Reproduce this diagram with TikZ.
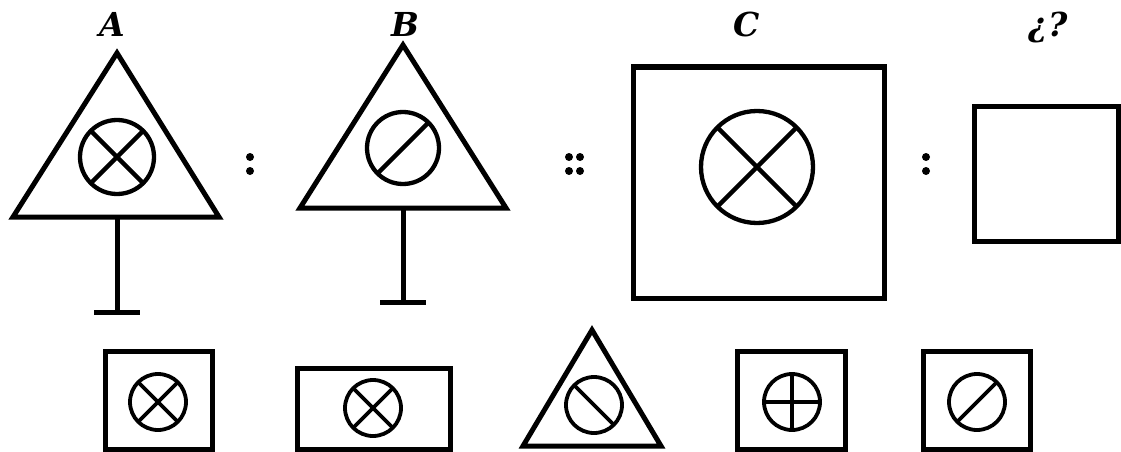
\documentclass[tikz,border=0pt]{standalone}
\usepackage{fontspec}
\newfontfamily\lblfont{DejaVu Serif}
\begin{document}
\begin{tikzpicture}[x=1pt,y=-1pt,
  shp/.style={line width=5pt, draw=black},
  sym/.style={line width=4.3pt, draw=black},
  ssym/.style={line width=3.8pt, draw=black},
  lbl/.style={font=\lblfont\fontsize{33}{35}\selectfont\bfseries\itshape, inner sep=0pt, anchor=base},
  dotn/.style={circle, fill=black, inner sep=0pt, minimum size=8pt}]
\useasboundingbox (0,0) rectangle (1121,452);
% labels
\node[lbl] (lA) at (112,37) {A};
\node[lbl] (lB) at (405,37) {B};
\node[lbl] (lC) at (747,37) {C};
\node[lbl] (lQ) at (1048,37) {\setbox0=\hbox{¿}\raisebox{\dp0}{\box0}?};
% figure A
\draw[shp] (117,53) -- (219,217) -- (13,217) -- cycle;
\coordinate (Abase) at (117,217); \coordinate (Afoot) at (117,312);
\draw[shp] (Abase) -- (Afoot);
\draw[shp] (94,312) -- (140,312);
\coordinate (Ac) at (117,157);
\draw[sym] (Ac) circle[radius=37pt];
\draw[sym] (Ac) +(-26,-26) -- +(26,26) (Ac) +(-26,26) -- +(26,-26);
% colon
\node[dotn] (d1) at (250,157) {}; \node[dotn] (d2) at (250,171) {};
% figure B
\draw[shp] (403,45) -- (506,208) -- (300,208) -- cycle;
\coordinate (Bbase) at (403,208); \coordinate (Bfoot) at (403,302);
\draw[shp] (Bbase) -- (Bfoot);
\draw[shp] (380,302) -- (426,302);
\coordinate (Bc) at (403,148);
\draw[sym] (Bc) circle[radius=36pt];
\draw[sym] (Bc) +(-25.5,25.5) -- +(25.5,-25.5);
% double colon
\node[dotn] (d3) at (569,157) {}; \node[dotn] (d4) at (580,157) {};
\node[dotn] (d5) at (569,171) {}; \node[dotn] (d6) at (580,171) {};
% figure C
\draw[shp] (633,67) rectangle (884,298);
\coordinate (Cc) at (757,167);
\draw[sym] (Cc) circle[radius=56pt];
\draw[sym] (Cc) +(-39.6,-39.6) -- +(39.6,39.6) (Cc) +(-39.6,39.6) -- +(39.6,-39.6);
% colon
\node[dotn] (d7) at (926,157) {}; \node[dotn] (d8) at (926,171) {};
% figure ?
\draw[shp] (974,106) rectangle (1118.5,241);
% options
\draw[shp] (105,351) rectangle (212,449);
\coordinate (o1) at (158,402);
\draw[ssym] (o1) circle[radius=28pt];
\draw[ssym] (o1) +(-19.8,-19.8) -- +(19.8,19.8) (o1) +(-19.8,19.8) -- +(19.8,-19.8);

\draw[shp] (297,368) rectangle (450,449);
\coordinate (o2) at (373,408);
\draw[ssym] (o2) circle[radius=28pt];
\draw[ssym] (o2) +(-19.8,-19.8) -- +(19.8,19.8) (o2) +(-19.8,19.8) -- +(19.8,-19.8);

\draw[shp] (592,330) -- (661,446) -- (523,446) -- cycle;
\coordinate (o3) at (594,405);
\draw[ssym] (o3) circle[radius=28pt];
\draw[ssym] (o3) +(-19.8,-19.8) -- +(19.8,19.8);

\draw[shp] (737,351) rectangle (845,449);
\coordinate (o4) at (792,402);
\draw[ssym] (o4) circle[radius=28pt];
\draw[ssym] (o4) +(-28,0) -- +(28,0) (o4) +(0,-28) -- +(0,28);

\draw[shp] (923,351) rectangle (1030,449);
\coordinate (o5) at (977,402);
\draw[ssym] (o5) circle[radius=28pt];
\draw[ssym] (o5) +(-19.8,19.8) -- +(19.8,-19.8);
\end{tikzpicture}
\end{document}
